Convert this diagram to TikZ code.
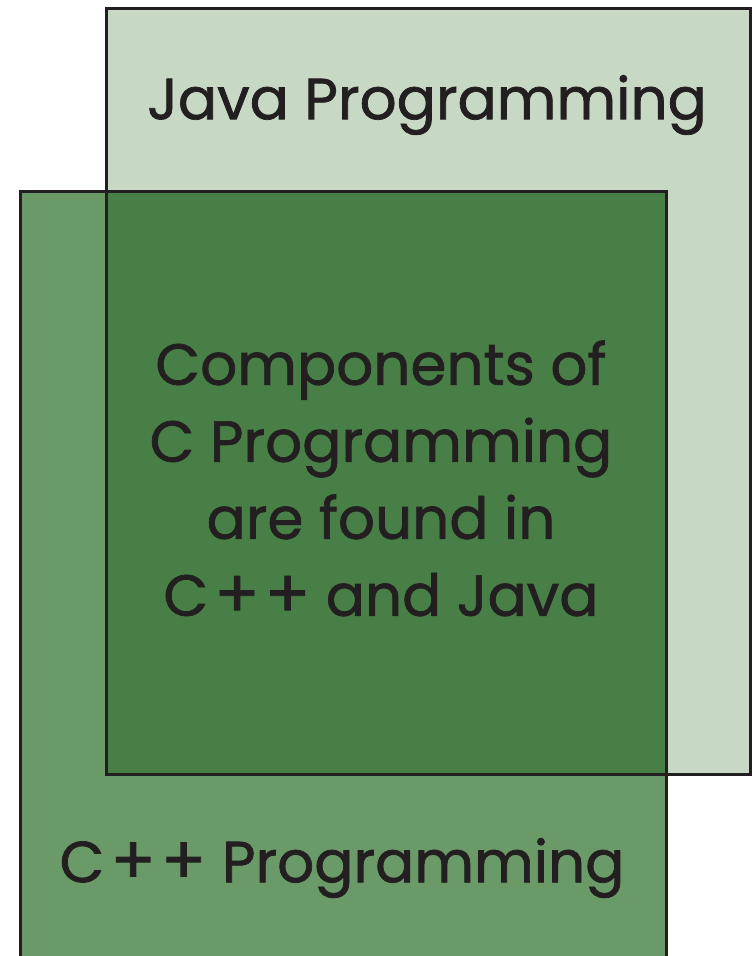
\documentclass[tikz,border=0pt]{standalone}
\usepackage{fontspec}
\usepackage{graphicx}
\newfontfamily\labelfont{Poppins}[UprightFeatures={FakeBold=1.2}]
\definecolor{javafill}{HTML}{C7D8C5}
\definecolor{cppfill}{HTML}{6B9A69}
\definecolor{cfill}{HTML}{477F46}
\definecolor{ink}{HTML}{231F20}
% wide plus signs for C++
\newcommand{\bigplus}{\raisebox{-0.03em}{\scalebox{1.15}{+}}}
\newcommand{\cpluses}{C{\kern6pt}\bigplus{\kern5pt}\bigplus}
\begin{document}
\begin{tikzpicture}[x=1pt,y=-1pt,
  frame/.style={draw=ink,line width=3pt},
  label/.style={text=ink,font=\labelfont\fontsize{58}{77}\selectfont,inner sep=0pt,align=center}]
\useasboundingbox (0,0) rectangle (753,956);
% Java and C++ areas and their overlap
\fill[javafill] (106,8) rectangle (750,774);
\fill[cppfill] (20,191) rectangle (666,970);
\fill[cfill] (106,191) rectangle (666,774);
% outlines
\draw[frame] (106,8) rectangle (750,774);
\draw[frame] (20,970) -- (20,191) -- (666,191) -- (666,970);
% texts
\node[label] (java) at (427,105) {Java Programming};
\node[label] (cpp) at (342,868) {\cpluses{} Programming};
\node[label] (core) at (381,479) {Components of\\C Programming\\are found in\\\cpluses{} and Java};
\end{tikzpicture}
\end{document}
